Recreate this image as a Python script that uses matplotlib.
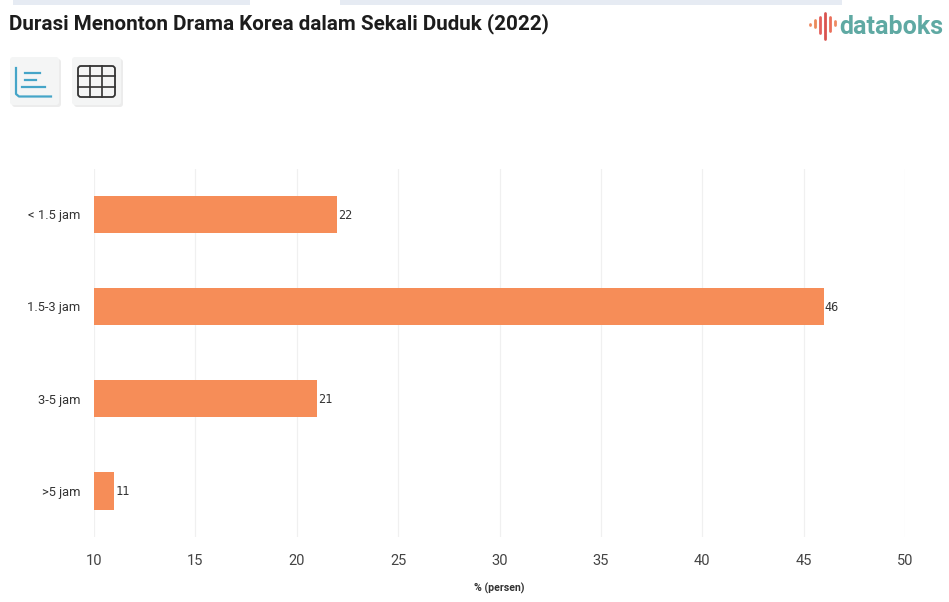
import matplotlib
matplotlib.use("Agg")
import matplotlib.pyplot as plt
from matplotlib.patches import FancyBboxPatch, Rectangle

categories = ["< 1.5 jam", "1.5-3 jam", "3-5 jam", ">5 jam"]
values = [22, 46, 21, 11]
x_ticks = [10, 15, 20, 25, 30, 35, 40, 45, 50]

W, H = 949, 602
plt.rcParams["font.family"] = ["Roboto", "DejaVu Sans"]
fig = plt.figure(figsize=(W / 100, H / 100), dpi=100, facecolor="white")

# Main bar chart
ax = fig.add_axes([94 / W, 1 - 537 / H, (905 - 94) / W, (537 - 169) / H])
ax.barh(categories, [v - 10 for v in values], left=10, height=0.405,
        color="#f68d58", zorder=3)
ax.set_xlim(10, 50)
ax.set_ylim(3.5, -0.49)
ax.set_xticks(x_ticks)
ax.grid(axis="x", color="#f0f0f0", linewidth=0.9, zorder=0)
ax.grid(axis="y", visible=False)
for s in ax.spines.values():
    s.set_visible(False)
ax.tick_params(axis="x", length=0, pad=12, labelsize=10.5, labelcolor="#444444")
ax.tick_params(axis="y", length=0, pad=10, labelsize=9.3, labelcolor="#333333")
for i, v in enumerate(values):
    ax.text(v + 0.05, i + 0.01, str(v), va="center", ha="left", fontsize=8.6,
            family="DejaVu Sans Mono", color="#333333", zorder=4)
ax.set_xlabel("% (persen)", fontsize=7.6, fontweight="bold", color="#333333",
              labelpad=10.5)

# Page furniture drawn in pixel coordinates
ov = fig.add_axes([0, 0, 1, 1], facecolor="none")
ov.set_xlim(0, W)
ov.set_ylim(H, 0)
ov.axis("off")

ov.add_patch(Rectangle((13, 0), 237, 5, color="#e6ebf3", lw=0))
ov.add_patch(Rectangle((340, 0), 502, 5, color="#e6ebf3", lw=0))

ov.text(9, 24, "Durasi Menonton Drama Korea dalam Sekali Duduk (2022)",
        fontsize=14.9, fontweight="bold", color="#1c1c1c", va="center", ha="left")

# Chart/table toggle buttons
for x0 in (10, 72):
    ov.add_patch(FancyBboxPatch((x0 + 2, 59), 49, 48, boxstyle="round,pad=0,rounding_size=3",
                                fc="#ececec", ec="none"))
    ov.add_patch(FancyBboxPatch((x0, 57), 49, 48, boxstyle="round,pad=0,rounding_size=3",
                                fc="#f4f5f5", ec="none"))
blue = "#45a5c8"
ov.plot([16, 16, 19, 51], [68, 94, 96.5, 96.5], color=blue, lw=1.6)
ov.plot([25, 40], [73, 73], color=blue, lw=1.6)
ov.plot([25, 36], [80, 80], color=blue, lw=1.6)
ov.plot([22, 45], [87, 87], color=blue, lw=1.6)
ov.add_patch(FancyBboxPatch((78, 66), 37, 31, boxstyle="round,pad=0,rounding_size=3",
                            fc="none", ec="#333333", lw=1.3))
for gx in (90, 102):
    ov.plot([gx, gx], [66, 97], color="#333333", lw=1.2)
for gy in (76, 87):
    ov.plot([78, 115], [gy, gy], color="#333333", lw=1.2)

# Publisher mark
for x, y0, y1, c in [(810, 24, 25, "#ef8a62"), (815, 20, 27, "#ea8a5a"),
                     (820, 17, 33, "#e5605c"), (825, 13, 39, "#d9534f"),
                     (830, 17, 31, "#ea6f5a"), (835, 21, 25, "#ef8a62")]:
    ov.plot([x, x], [y0, y1], color=c, lw=2, solid_capstyle="round")
ov.text(839, 27, "databoks", fontsize=18, fontweight="bold", color="#5fa9a3",
        va="center", ha="left", family="Roboto")

fig.savefig("out.png", dpi=100)
